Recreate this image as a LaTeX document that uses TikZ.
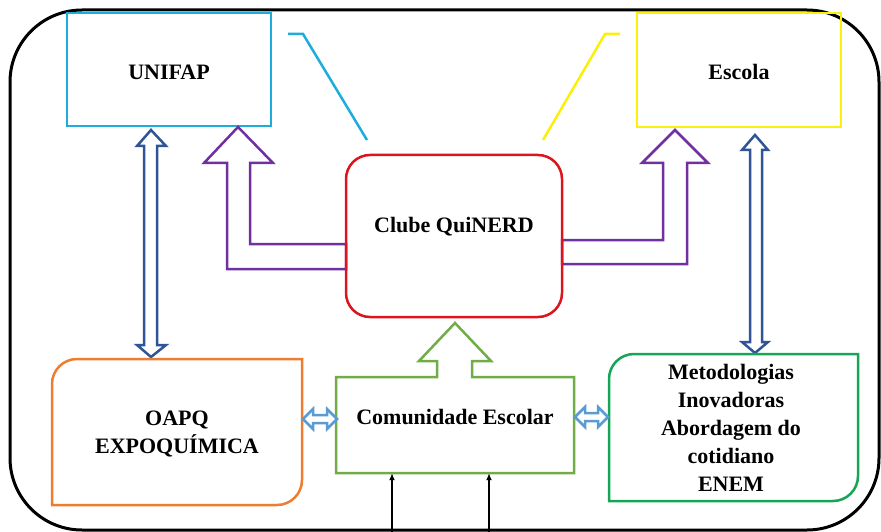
\documentclass[tikz,border=0pt]{standalone}
\usepackage{fontspec}
\setmainfont{Liberation Serif}[BoldFont={Liberation Serif Bold}]
\usetikzlibrary{arrows.meta}
\definecolor{cyanb}{RGB}{30,172,220}
\definecolor{yel}{RGB}{250,240,10}
\definecolor{redb}{RGB}{220,20,30}
\definecolor{purp}{RGB}{112,48,160}
\definecolor{dkblue}{RGB}{47,85,151}
\definecolor{orng}{RGB}{237,125,49}
\definecolor{grn}{RGB}{112,173,71}
\definecolor{dgrn}{RGB}{20,165,85}
\definecolor{lblue}{RGB}{91,155,213}
\begin{document}
\begin{tikzpicture}[x=1pt,y=-1pt,
  lbl/.style={font=\fontsize{22}{28}\selectfont\bfseries, align=center, inner sep=0pt},
  boxn/.style={draw, line width=2.5pt, inner sep=0pt},
  ghost/.style={inner sep=0pt},
  blockarrow/.style={line width=2.5pt, fill=white, line join=miter},
  dblarrow/.style={line width=2.5pt, fill=white},
  thinarrow/.style={line width=2pt, -{Latex[length=7pt,width=6pt]}}]
\useasboundingbox (0,0) rectangle (881,532);
% outer frame
\draw[line width=3pt, rounded corners=72] (10,10) rectangle (879,530);

% top boxes
\node[boxn, draw=cyanb, minimum width=204pt, minimum height=113pt] (unifap) at (169,69.5) {};
\node[lbl] (unifapt) at (169,72) {UNIFAP};
\node[boxn, draw=yel, minimum width=204pt, minimum height=114pt] (escola) at (739,70) {};
\node[lbl] (escolat) at (739,72) {Escola};

% leader lines
\coordinate (cy1) at (288,34);
\coordinate (cy2) at (303,34);
\coordinate (cy3) at (367,140);
\draw[cyanb, line width=2.5pt] (cy1) -- (cy2) -- (cy3);
\coordinate (ye1) at (620,34);
\coordinate (ye2) at (605,34);
\coordinate (ye3) at (543,140);
\draw[yel, line width=2.5pt] (ye1) -- (ye2) -- (ye3);

% purple block arrows
\draw[purp, blockarrow] (238,127) -- (273,163) -- (250,163) -- (250,244) -- (346,244) -- (346,269) -- (227,269) -- (227,163) -- (204,163) -- cycle;
\draw[purp, blockarrow] (675,130) -- (708,163) -- (687,163) -- (687,264) -- (562,264) -- (562,240) -- (663,240) -- (663,163) -- (642,163) -- cycle;

% central box
\node[boxn, draw=redb, rounded corners=24, minimum width=216pt, minimum height=162pt] (clube) at (454,236) {};
\node[lbl] (clubet) at (454,227) {Clube QuiNERD};

% dark blue double arrows
\draw[dkblue, dblarrow] (151,130) -- (166,146) -- (157,146) -- (157,345) -- (166,345) -- (151,357) -- (137,345) -- (144,345) -- (144,146) -- (137,146) -- cycle;
\draw[dkblue, dblarrow] (755,135) -- (768,150) -- (762,150) -- (762,342) -- (768,342) -- (755,353) -- (742,342) -- (750,342) -- (750,150) -- (742,150) -- cycle;

% OAPQ box
\node[ghost, minimum width=250pt, minimum height=146pt] (oapq) at (177,432) {};
\draw[orng, line width=2.5pt] (52,505) [rounded corners=25] -- (52,359) [sharp corners] -- (302,359) [rounded corners=25] -- (302,505) [sharp corners] -- cycle;
\node[lbl] (oapqt) at (177,434) {OAPQ\\EXPOQUÍMICA};

% Comunidade Escolar box with up arrow
\node[ghost, minimum width=238pt, minimum height=96pt] (comun) at (455,425) {};
\draw[grn, line width=2.5pt, line join=miter] (336,377) -- (437,377) -- (437,361) -- (419,361) -- (455,323) -- (491,361) -- (472,361) -- (472,377) -- (574,377) -- (574,473) -- (336,473) -- cycle;
\node[lbl] (comunt) at (455,417) {Comunidade Escolar};

% Metodologias box
\node[ghost, minimum width=249pt, minimum height=147pt] (metod) at (733.5,427.5) {};
\draw[dgrn, line width=2.5pt] (609,501) [rounded corners=25] -- (609,354) [sharp corners] -- (858,354) [rounded corners=25] -- (858,501) [sharp corners] -- cycle;
\node[lbl] (metodt) at (731,427.5) {Metodologias\\Inovadoras\\Abordagem do\\cotidiano\\ENEM};

% light blue double arrows
\draw[lblue, line width=2.5pt, fill=white] (303,419) -- (313,409) -- (313,415) -- (327,415) -- (327,409) -- (337,419) -- (327,429) -- (327,423) -- (313,423) -- (313,429) -- cycle;
\draw[lblue, line width=2.5pt, fill=white] (575,417) -- (585,407) -- (585,413) -- (598,413) -- (598,407) -- (608,417) -- (598,427) -- (598,421) -- (585,421) -- (585,427) -- cycle;

% black arrows from bottom
\coordinate (b1) at (392,533);
\coordinate (b2) at (489,533);
\draw[thinarrow] (b1) -- (b1 |- comun.south);
\draw[thinarrow] (b2) -- (b2 |- comun.south);
\end{tikzpicture}
\end{document}
